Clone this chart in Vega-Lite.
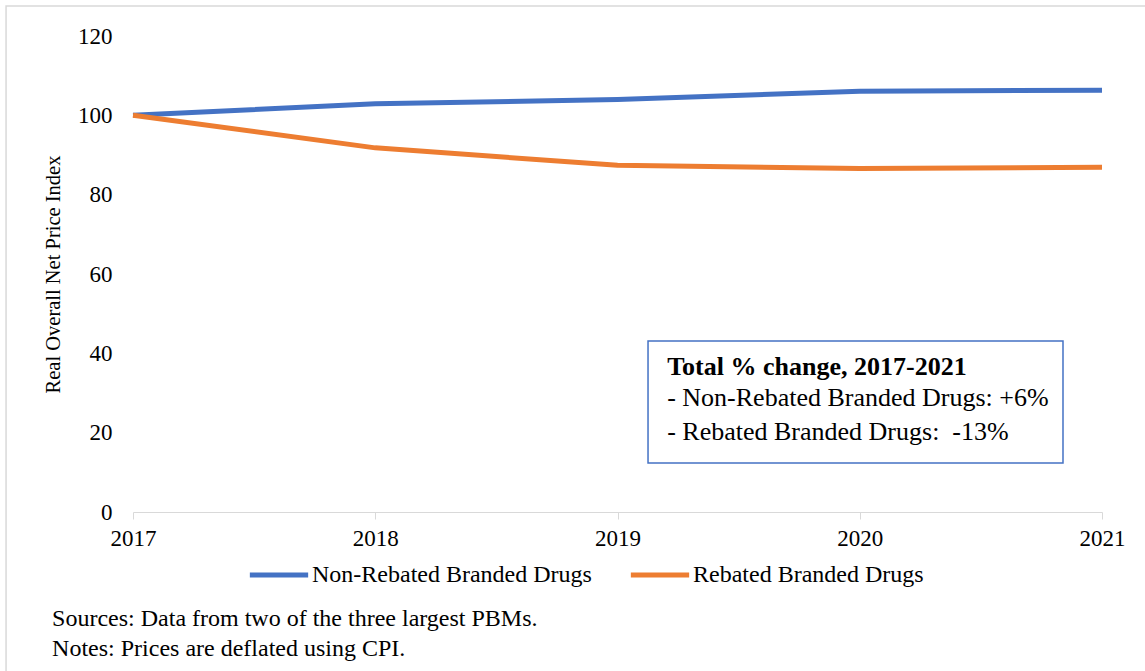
{
  "$schema": "https://vega.github.io/schema/vega-lite/v6.json",
  "autosize": {"type": "none"},
  "width": 969,
  "height": 476,
  "padding": {"left": 133, "top": 36, "right": 43, "bottom": 159},
  "background": "white",
  "config": {
    "font": "Liberation Serif",
    "view": {"stroke": null},
    "axis": {"labelFont": "Liberation Serif", "titleFont": "Liberation Serif", "labelColor": "#000", "titleColor": "#000", "labelFontSize": 23, "titleFontSize": 20.5, "titleFontWeight": "normal"},
    "legend": {"labelFont": "Liberation Serif", "labelFontSize": 24, "labelColor": "#000"},
    "text": {"font": "Liberation Serif"}
  },
  "layer": [
    {
      "data": {"values": [{"a": 1}]},
      "mark": {"type": "rect", "fill": null, "stroke": "#d9d9d9", "strokeWidth": 1.5, "clip": false},
      "encoding": {
        "x": {"datum": 2016.476},
        "x2": {"datum": 2021.3},
        "y": {"datum": 127.55},
        "y2": {"datum": -50}
      }
    },
    {
      "data": {
        "values": [
          {"year": 2017, "series": "Non-Rebated Branded Drugs", "index": 100},
          {"year": 2018, "series": "Non-Rebated Branded Drugs", "index": 102.9},
          {"year": 2019, "series": "Non-Rebated Branded Drugs", "index": 104.0},
          {"year": 2020, "series": "Non-Rebated Branded Drugs", "index": 106.1},
          {"year": 2021, "series": "Non-Rebated Branded Drugs", "index": 106.3},
          {"year": 2017, "series": "Rebated Branded Drugs", "index": 100},
          {"year": 2018, "series": "Rebated Branded Drugs", "index": 91.8},
          {"year": 2019, "series": "Rebated Branded Drugs", "index": 87.4},
          {"year": 2020, "series": "Rebated Branded Drugs", "index": 86.6},
          {"year": 2021, "series": "Rebated Branded Drugs", "index": 86.9}
        ]
      },
      "mark": {"type": "line", "strokeWidth": 5, "strokeCap": "butt"},
      "encoding": {
        "x": {
          "field": "year", "type": "quantitative",
          "scale": {"domain": [2017, 2021], "nice": false, "zero": false},
          "axis": {"title": null, "format": "d", "values": [2017, 2018, 2019, 2020, 2021], "grid": false, "domainColor": "#d9d9d9", "tickColor": "#d9d9d9", "tickSize": 7, "labelPadding": 8, "labelFlush": false, "labelFont": "Liberation Serif"}
        },
        "y": {
          "field": "index", "type": "quantitative",
          "scale": {"domain": [0, 120], "nice": false},
          "axis": {"title": "Real Overall Net Price Index", "values": [0, 20, 40, 60, 80, 100, 120], "domain": false, "ticks": false, "gridColor": "#d9d9d9", "gridWidth": 1.3, "labelPadding": 21, "titlePadding": 14, "labelFont": "Liberation Serif"}
        },
        "color": {
          "field": "series", "type": "nominal",
          "scale": {"domain": ["Non-Rebated Branded Drugs", "Rebated Branded Drugs"], "range": ["#4472C4", "#ED7D31"]},
          "legend": {"title": null, "orient": "none", "legendX": 114, "legendY": 507, "direction": "horizontal", "symbolType": "stroke", "symbolSize": 3400, "symbolStrokeWidth": 5, "labelOffset": 1, "columnPadding": 28, "labelLimit": 500, "labelFont": "Liberation Serif"}
        }
      }
    },
    {
      "data": {"values": [{"a": 1}]},
      "mark": {"type": "rect", "fill": "white", "stroke": "#4472C4", "strokeWidth": 1.5},
      "encoding": {
        "x": {"datum": 2019.126},
        "x2": {"datum": 2020.839},
        "y": {"datum": 43.1},
        "y2": {"datum": 12.35}
      }
    },
    {
      "data": {
        "values": [
          {"label": "Total % change, 2017-2021", "lx": 2019.205, "ly": 36.6}
        ]
      },
      "mark": {"type": "text", "align": "left", "baseline": "middle", "font": "Liberation Serif", "fontSize": 26, "fontWeight": "bold", "fill": "#000"},
      "encoding": {
        "x": {"field": "lx", "type": "quantitative"},
        "y": {"field": "ly", "type": "quantitative"},
        "text": {"field": "label"}
      }
    },
    {
      "data": {
        "values": [
          {"label": "- Non-Rebated Branded Drugs: +6%", "lx": 2019.205, "ly": 28.7},
          {"label": "- Rebated Branded Drugs: \u00a0-13%", "lx": 2019.205, "ly": 20.2}
        ]
      },
      "mark": {"type": "text", "align": "left", "baseline": "middle", "font": "Liberation Serif", "fontSize": 26, "fill": "#000"},
      "encoding": {
        "x": {"field": "lx", "type": "quantitative"},
        "y": {"field": "ly", "type": "quantitative"},
        "text": {"field": "label"}
      }
    },
    {
      "data": {
        "values": [
          {"label": "Sources: Data from two of the three largest PBMs.", "lx": 2016.666, "ly": -26.97},
          {"label": "Notes: Prices are deflated using CPI.", "lx": 2016.666, "ly": -34.53}
        ]
      },
      "mark": {"type": "text", "align": "left", "baseline": "middle", "font": "Liberation Serif", "fontSize": 24, "fill": "#000", "clip": false},
      "encoding": {
        "x": {"field": "lx", "type": "quantitative"},
        "y": {"field": "ly", "type": "quantitative"},
        "text": {"field": "label"}
      }
    }
  ]
}
